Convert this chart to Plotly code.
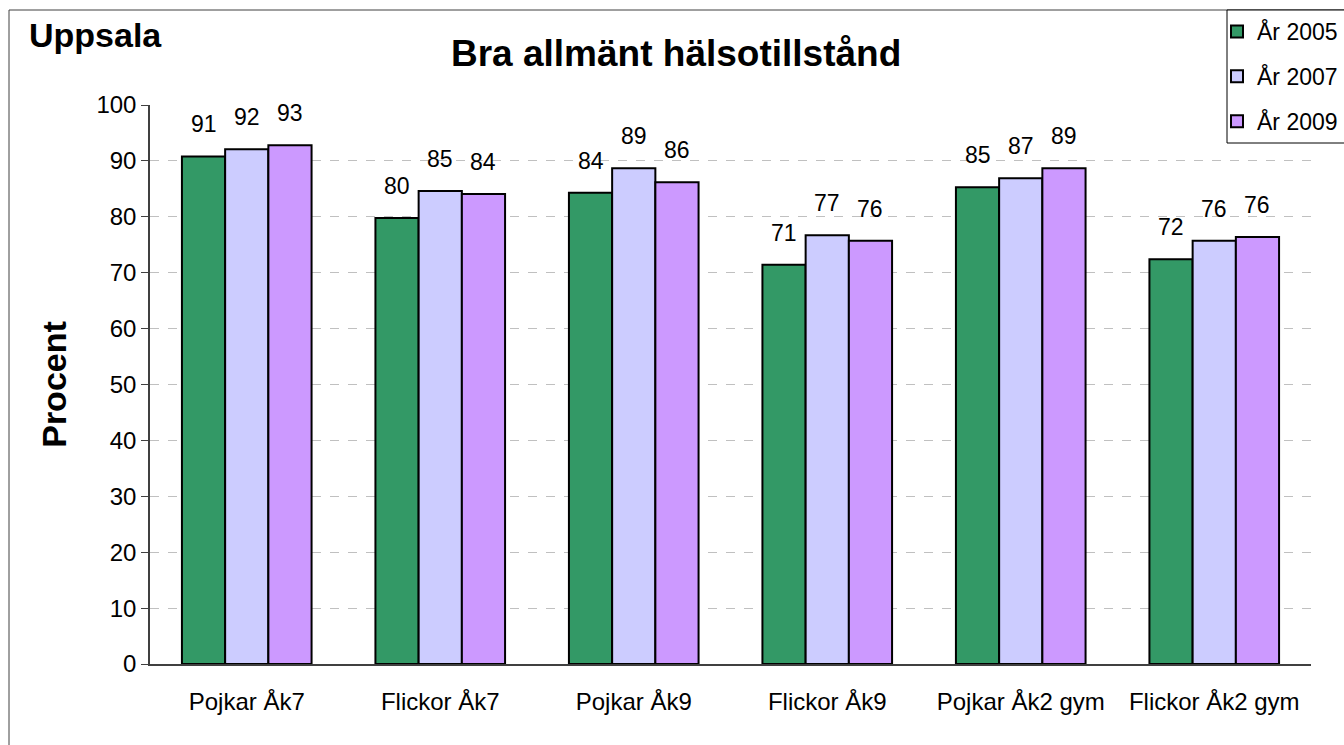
import plotly.graph_objects as go

categories = ["Pojkar Åk7", "Flickor Åk7", "Pojkar Åk9", "Flickor Åk9", "Pojkar Åk2 gym", "Flickor Åk2 gym"]
years = ["År 2005", "År 2007", "År 2009"]
v2005 = [90.8, 79.8, 84.3, 71.4, 85.3, 72.4]
v2007 = [92.1, 84.6, 88.7, 76.7, 86.9, 75.7]
v2009 = [92.8, 84.1, 86.2, 75.7, 88.7, 76.4]
series = [v2005, v2007, v2009]
colors = ["#339966", "#CCCCFF", "#CC99FF"]

FONT = "Arial, Liberation Sans, sans-serif"

fig = go.Figure()
for name, vals, col in zip(years, series, colors):
    fig.add_trace(go.Bar(
        x=categories, y=vals, name=name, legendgroup=name,
        marker=dict(color=col, line=dict(color="black", width=2)),
    ))

L, R, T, B = 150, 1344 - 1311, 105, 745 - 664
pw, ph = 1344 - L - R, 745 - T - B
bar_px = pw / len(categories) * 0.67 / 3

def py(y):
    return (745 - B - y) / ph

def px(x):
    return (x - L) / pw

annotations = []
for i, vals in enumerate(series):
    for c, v in zip(categories, vals):
        annotations.append(dict(
            x=c, y=v, xref="x", yref="y", text=f"{v:.0f}", showarrow=False,
            xshift=(i - 1) * bar_px, yshift=32, yanchor="middle",
            font=dict(family=FONT, size=23, color="black"),
        ))

annotations.append(dict(
    text="<b>Bra allmänt hälsotillstånd</b>", xref="paper", yref="paper",
    x=px(676), y=py(53), showarrow=False,
    xanchor="center", yanchor="middle",
    font=dict(family=FONT, size=37, color="black"),
))
annotations.append(dict(
    text="<b>Uppsala</b>", xref="paper", yref="paper",
    x=px(27), y=py(35), showarrow=False,
    xanchor="left", yanchor="middle",
    font=dict(family=FONT, size=34, color="black"),
))

fig.update_layout(
    width=1344, height=745,
    margin=dict(l=L, r=R, t=T, b=B, autoexpand=False),
    paper_bgcolor="white", plot_bgcolor="white",
    barmode="group", bargap=0.33, bargroupgap=0,
    font=dict(family=FONT, size=23, color="black"),
    showlegend=True,
    legend=dict(
        x=px(1217), y=py(10), xanchor="left", yanchor="top",
        xref="paper", yref="paper",
        borderwidth=0, bgcolor="rgba(0,0,0,0)",
        font=dict(family=FONT, size=23, color="black"),
        itemwidth=30, tracegroupgap=12,
    ),
    annotations=annotations,
    shapes=[
        dict(
            type="rect", xref="paper", yref="paper",
            x0=px(9), x1=1.3, y0=-0.3, y1=py(10),
            line=dict(color="#404040", width=1), fillcolor="rgba(0,0,0,0)", layer="below",
        ),
        dict(
            type="rect", xref="paper", yref="paper",
            x0=px(1227), x1=1.3, y0=py(143), y1=py(10),
            line=dict(color="black", width=1), fillcolor="white", layer="below",
        ),
    ],
)

fig.update_yaxes(
    range=[0, 100], dtick=10, showgrid=True,
    gridcolor="#c0c0c0", griddash="dash", gridwidth=1,
    showline=True, linecolor="#404040", linewidth=1.5,
    ticks="outside", ticklen=7, tickcolor="#404040",
    tickfont=dict(family=FONT, size=24, color="black"),
    zeroline=False,
    title=dict(text="<b>Procent</b>", font=dict(family=FONT, size=34, color="black"), standoff=20),
)
fig.update_xaxes(
    showline=True, linecolor="#404040", linewidth=1.5,
    ticks="", showgrid=False,
    tickfont=dict(family=FONT, size=24, color="black"),
    ticklabelstandoff=15,
)

fig.write_html(
    "out.html",
    config={"displayModeBar": False},
    post_script="document.body.style.margin='0';document.body.style.overflow='hidden';",
)
